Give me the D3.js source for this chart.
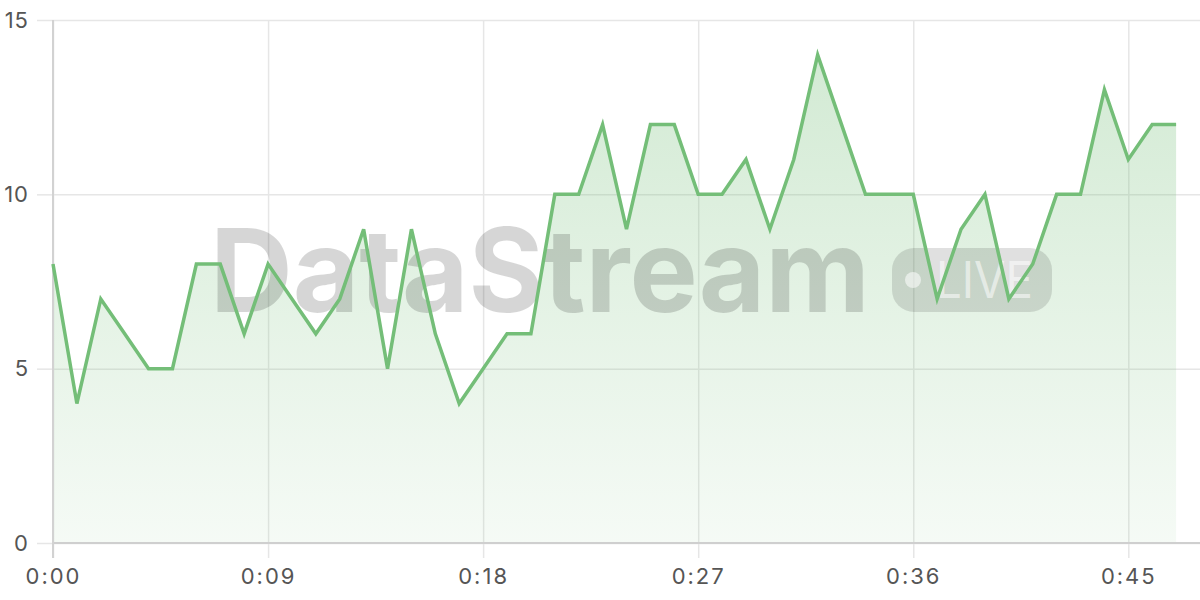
<!DOCTYPE html>
<html>
<head>
<meta charset="utf-8">
<script src="https://cdn.jsdelivr.net/npm/d3@7"></script>
<style>
  html, body { margin: 0; padding: 0; background: #fff; }
  svg { display: block; }
  text { font-family: Inter, "Noto Sans", sans-serif; }
</style>
</head>
<body>
<svg id="chart" width="1200" height="600"></svg>
<script>
// ---- data ----
const seconds = d3.range(0, 48);
const values = [8,4,7,6,5,5,8,8,6,8,7,6,7,9,5,9,6,4,5,6,6,10,10,12,9,12,12,10,10,11,9,11,14,12,10,10,10,7,9,10,7,8,10,10,13,11,12,12];
const xTicks = [0, 9, 18, 27, 36, 45];
const yTicks = [0, 5, 10, 15];
const watermarkTitle = "DataStream";
const watermarkBadge = "LIVE";

// ---- layout ----
const W = 1200, H = 600;
const margin = { top: 20, right: 0, bottom: 57, left: 53 };
const svg = d3.select("#chart");

const x = d3.scaleLinear().domain([0, 48]).range([margin.left, W - margin.right]);
const y = d3.scaleLinear().domain([0, 15]).range([H - margin.bottom, margin.top]);

const fmt = s => `${Math.floor(s / 60)}:${String(s % 60).padStart(2, "0")}`;

// gradient
const defs = svg.append("defs");
const grad = defs.append("linearGradient").attr("id", "fillGrad")
  .attr("gradientUnits", "userSpaceOnUse")
  .attr("x1", 0).attr("x2", 0).attr("y1", y(14)).attr("y2", y(0));
grad.append("stop").attr("offset", 0).attr("stop-color", "rgb(116,190,120)").attr("stop-opacity", 0.32);
grad.append("stop").attr("offset", 1).attr("stop-color", "rgb(116,190,120)").attr("stop-opacity", 0.07);

// horizontal grid (y axis ticks)
const yAxis = d3.axisLeft(y).tickValues(yTicks).tickSize(16).tickPadding(8);
const gy = svg.append("g").attr("transform", `translate(${margin.left},0)`).call(yAxis);
gy.select(".domain").remove();
gy.selectAll(".tick line").clone()
  .attr("x1", 0).attr("x2", W - margin.left)
  .attr("stroke", "#e6e6e6");
gy.selectAll(".tick line").attr("stroke", "#e6e6e6").attr("stroke-width", 1.5);
gy.selectAll(".tick text").attr("fill", "#555").attr("font-size", 22)
  .attr("letter-spacing", 1);

// vertical grid (x axis ticks)
const xAxis = d3.axisBottom(x).tickValues(xTicks).tickFormat(fmt).tickSize(15).tickPadding(10);
const gx = svg.append("g").attr("transform", `translate(0,${y(0)})`).call(xAxis);
gx.select(".domain").remove();
gx.selectAll(".tick line").clone()
  .attr("y1", 0).attr("y2", y(15) - y(0))
  .attr("stroke", "#e6e6e6").attr("stroke-width", 1.5);
gx.selectAll(".tick line").attr("stroke", "#e6e6e6").attr("stroke-width", 1.5);
gx.selectAll(".tick text").attr("fill", "#555").attr("font-size", 22)
  .attr("letter-spacing", 2);

// area
const area = d3.area().x((d, i) => x(seconds[i])).y0(y(0)).y1(d => y(d));
svg.append("path").datum(values).attr("d", area).attr("fill", "url(#fillGrad)");

// axis lines
svg.append("line").attr("x1", margin.left).attr("x2", W).attr("y1", y(0)).attr("y2", y(0))
  .attr("stroke", "#cfcfcf").attr("stroke-width", 2);
svg.append("line").attr("x1", margin.left).attr("x2", margin.left).attr("y1", y(15)).attr("y2", y(0) + 15)
  .attr("stroke", "#d2d2d2").attr("stroke-width", 2);

// watermark
const wm = svg.append("g");
wm.append("text").text(watermarkTitle)
  .attr("x", 210).attr("y", 312)
  .attr("font-size", 116).attr("font-weight", 700)
  .attr("textLength", 660).attr("lengthAdjust", "spacingAndGlyphs")
  .attr("fill", "rgba(0,0,0,0.16)");
wm.append("rect").attr("x", 892).attr("y", 248).attr("width", 160).attr("height", 64).attr("rx", 22)
  .attr("fill", "rgba(0,0,0,0.12)");
wm.append("circle").attr("cx", 913).attr("cy", 280).attr("r", 8)
  .attr("fill", "rgba(255,255,255,0.55)");
wm.append("text").text(watermarkBadge)
  .attr("x", 936).attr("y", 298)
  .attr("font-size", 50).attr("font-weight", 400)
  .attr("textLength", 97).attr("lengthAdjust", "spacingAndGlyphs")
  .attr("fill", "rgba(255,255,255,0.55)");

// line
const line = d3.line().x((d, i) => x(seconds[i])).y(d => y(d));
svg.append("path").datum(values).attr("d", line)
  .attr("fill", "none").attr("stroke", "rgb(116,190,120)").attr("stroke-width", 3.5)
  .attr("stroke-linejoin", "miter");
</script>
</body>
</html>
